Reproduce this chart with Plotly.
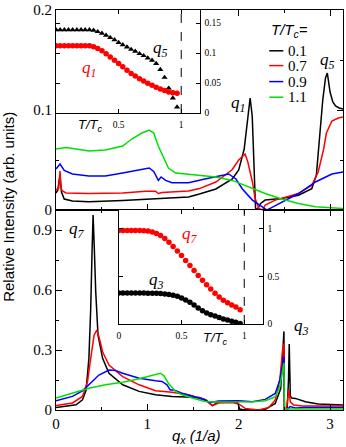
import plotly.graph_objects as go

# ---------------- main top panel data (q_x in 1/a, intensity) ----------------
q_top_t01 = [0.0, 0.02, 0.035, 0.044, 0.06, 0.09, 0.18, 0.36, 0.73, 1.09, 1.45, 1.57, 1.75, 1.93, 2.0,
             2.06, 2.09, 2.125, 2.148, 2.166, 2.184, 2.20, 2.24, 2.29, 2.47, 2.654, 2.80, 2.85, 2.89,
             2.92, 2.95, 2.97, 3.0, 3.03, 3.06, 3.1, 3.1416]
I_top_t01 = [0.017, 0.02, 0.03, 0.034, 0.018, 0.011, 0.0089, 0.0082, 0.0095, 0.011, 0.013, 0.016, 0.021,
             0.031, 0.040, 0.061, 0.087, 0.112, 0.094, 0.044, 0.002, 0.0, 0.0066, 0.0099, 0.0115, 0.0148,
             0.0214, 0.035, 0.077, 0.11, 0.132, 0.137, 0.118, 0.108, 0.104, 0.102, 0.101]

q_top_t07 = [0.0, 0.03, 0.044, 0.055, 0.07, 0.11, 0.36, 0.73, 0.98, 1.09, 1.12, 1.16, 1.45, 1.57, 1.75,
             1.93, 2.0, 2.07, 2.10, 2.15, 2.18, 2.22, 2.26, 2.29, 2.40, 2.654, 2.80, 2.87, 2.93, 2.96,
             3.02, 3.09, 3.1416]
I_top_t07 = [0.02, 0.022, 0.039, 0.022, 0.019, 0.017, 0.0165, 0.017, 0.0188, 0.0188, 0.0165, 0.0175,
             0.019, 0.0214, 0.028, 0.0405, 0.050, 0.056, 0.048, 0.028, 0.0115, 0.0016, 0.0, 0.005,
             0.0099, 0.0165, 0.0247, 0.038, 0.061, 0.077, 0.089, 0.092, 0.093]

q_top_t09 = [0.0, 0.044, 0.09, 0.18, 0.36, 0.54, 0.73, 0.91, 1.02, 1.07, 1.12, 1.15, 1.20, 1.27, 1.45,
             1.63, 1.75, 1.89, 1.97, 2.04, 2.15, 2.26, 2.31, 2.36, 2.51, 2.654, 2.84, 3.02, 3.1416]
I_top_t09 = [0.041, 0.046, 0.0395, 0.036, 0.034, 0.034, 0.037, 0.0405, 0.042, 0.0385, 0.0296, 0.033,
             0.0296, 0.0273, 0.0273, 0.031, 0.033, 0.036, 0.031, 0.021, 0.0099, 0.0033, 0.0, 0.0023,
             0.0099, 0.0165, 0.028, 0.036, 0.038]

q_top_t11 = [0.0, 0.11, 0.22, 0.36, 0.54, 0.73, 0.83, 0.94, 1.02, 1.07, 1.12, 1.18, 1.23, 1.31, 1.45,
             1.57, 1.75, 1.93, 2.11, 2.29, 2.47, 2.654, 2.84, 3.02, 3.1416]
I_top_t11 = [0.061, 0.0626, 0.061, 0.059, 0.060, 0.064, 0.071, 0.077, 0.080, 0.077, 0.064, 0.051, 0.042,
             0.037, 0.0356, 0.0346, 0.033, 0.0296, 0.023, 0.0165, 0.011, 0.0066, 0.0033, 0.002, 0.0016]

# ---------------- main bottom panel data ----------------
q_bot_t01 = [0.0, 0.22, 0.29, 0.33, 0.36, 0.38, 0.395, 0.406, 0.42, 0.435, 0.46, 0.51, 0.58, 0.73, 0.91,
             1.09, 1.27, 1.45, 1.57, 1.64, 1.71, 1.78, 1.93, 1.99, 2.01, 2.04, 2.15, 2.29, 2.40, 2.46,
             2.48, 2.495, 2.50, 2.53, 2.545, 2.553, 2.565, 2.58, 2.62, 2.73, 2.87, 3.1416]
I_bot_t01 = [0.013, 0.026, 0.051, 0.10, 0.258, 0.506, 0.80, 0.975, 0.80, 0.59, 0.374, 0.258, 0.184,
             0.126, 0.093, 0.076, 0.068, 0.066, 0.063, 0.05, 0.022, 0.04, 0.041, 0.036, 0.005, 0.003,
             0.0, 0.003, 0.033, 0.107, 0.26, 0.393, 0.0, 0.0, 0.15, 0.33, 0.07, 0.06, 0.058, 0.041,
             0.03, 0.025]

q_bot_t07 = [0.0, 0.18, 0.29, 0.345, 0.38, 0.417, 0.446, 0.47, 0.51, 0.58, 0.73, 0.91, 1.09, 1.27, 1.45,
             1.57, 1.64, 1.71, 1.78, 1.93, 2.0, 2.07, 2.15, 2.22, 2.33, 2.40, 2.45, 2.48, 2.495, 2.50,
             2.52, 2.55, 2.565, 2.60, 2.7, 3.1416]
I_bot_t07 = [0.023, 0.035, 0.068, 0.142, 0.258, 0.374, 0.399, 0.366, 0.291, 0.225, 0.167, 0.126, 0.096,
             0.089, 0.076, 0.062, 0.05, 0.022, 0.035, 0.037, 0.03, 0.008, 0.002, 0.0, 0.013, 0.05, 0.15,
             0.30, 0.333, 0.0, 0.0, 0.10, 0.041, 0.025, 0.02, 0.02]

q_bot_t09 = [0.0, 0.18, 0.29, 0.36, 0.47, 0.58, 0.65, 0.73, 0.91, 1.09, 1.16, 1.215, 1.25, 1.29, 1.38,
             1.52, 1.63, 1.68, 1.78, 2.0, 2.15, 2.29, 2.40, 2.45, 2.495, 2.50, 2.53, 2.56, 2.62, 2.73,
             3.1416]
I_bot_t09 = [0.046, 0.068, 0.096, 0.126, 0.175, 0.20, 0.198, 0.184, 0.159, 0.146, 0.143, 0.126, 0.10,
             0.10, 0.084, 0.065, 0.05, 0.036, 0.045, 0.046, 0.041, 0.053, 0.083, 0.15, 0.265, 0.0, 0.0,
             0.017, 0.01, 0.012, 0.012]

q_bot_t11 = [0.0, 0.36, 0.54, 0.73, 0.91, 1.02, 1.09, 1.14, 1.18, 1.23, 1.31, 1.38, 1.52, 1.63, 1.75,
             2.0, 2.15, 2.29, 2.40, 2.45, 2.495, 2.50, 2.53, 3.1416]
I_bot_t11 = [0.06, 0.109, 0.126, 0.139, 0.156, 0.17, 0.18, 0.184, 0.172, 0.134, 0.093, 0.076, 0.056,
             0.043, 0.04, 0.041, 0.041, 0.046, 0.066, 0.116, 0.235, 0.0, 0.005, 0.005]

# ---------------- inset data (T/Tc) ----------------
T_ratio = [0.000, 0.033, 0.067, 0.100, 0.133, 0.167, 0.200, 0.233, 0.267, 0.300, 0.333, 0.367, 0.400,
           0.433, 0.467, 0.500, 0.533, 0.567, 0.600, 0.633, 0.667, 0.700, 0.733, 0.767, 0.800, 0.833,
           0.867, 0.900, 0.933, 0.967]
q5_amp = [0.139, 0.139, 0.139, 0.139, 0.139, 0.139, 0.139, 0.139, 0.139, 0.138, 0.1358, 0.1331, 0.1298,
          0.126, 0.1221, 0.1177, 0.1139, 0.110, 0.1062, 0.1029, 0.099, 0.0957, 0.0918, 0.088, 0.0825,
          0.0726, 0.0594, 0.0413, 0.0248, 0.0099]
q1_amp = [0.1122, 0.1122, 0.1122, 0.1122, 0.1122, 0.1122, 0.1122, 0.1122, 0.1122, 0.1105, 0.1078, 0.104,
          0.099, 0.0935, 0.088, 0.0825, 0.077, 0.0715, 0.066, 0.0616, 0.0572, 0.0534, 0.0495, 0.0462,
          0.0429, 0.0402, 0.0374, 0.0352, 0.0336, 0.033]
q7_amp = [0.983, 0.983, 0.983, 0.983, 0.983, 0.983, 0.982, 0.978, 0.968, 0.952, 0.93, 0.9, 0.86, 0.815,
          0.768, 0.72, 0.668, 0.614, 0.563, 0.51, 0.46, 0.413, 0.367, 0.323, 0.283, 0.25, 0.222, 0.2,
          0.178, 0.15]
q3_amp = [0.325, 0.325, 0.325, 0.325, 0.325, 0.325, 0.325, 0.324, 0.323, 0.322, 0.32, 0.316, 0.31, 0.302,
          0.29, 0.273, 0.252, 0.228, 0.2, 0.168, 0.138, 0.115, 0.097, 0.082, 0.066, 0.052, 0.04, 0.029,
          0.017, 0.004]

temps = ["0.1", "0.7", "0.9", "1.1"]
colors = ["#000000", "#ff0000", "#0000ff", "#00e000"]

fig = go.Figure()

top_sets = [(q_top_t01, I_top_t01), (q_top_t07, I_top_t07), (q_top_t09, I_top_t09), (q_top_t11, I_top_t11)]
bot_sets = [(q_bot_t01, I_bot_t01), (q_bot_t07, I_bot_t07), (q_bot_t09, I_bot_t09), (q_bot_t11, I_bot_t11)]

for (qs, vs), t, c in zip(top_sets, temps, colors):
    fig.add_trace(go.Scatter(x=qs, y=vs, mode="lines", line=dict(color=c, width=1.5),
                             name=t, xaxis="x", yaxis="y", showlegend=False))
for (qs, vs), t, c in zip(bot_sets, temps, colors):
    fig.add_trace(go.Scatter(x=qs, y=vs, mode="lines", line=dict(color=c, width=1.5),
                             name=t, xaxis="x2", yaxis="y2", showlegend=False))

# insets
fig.add_trace(go.Scatter(x=T_ratio, y=q5_amp, mode="markers", xaxis="x3", yaxis="y3",
                         marker=dict(symbol="triangle-up", size=5.5, color="black"), showlegend=False))
fig.add_trace(go.Scatter(x=T_ratio, y=q1_amp, mode="markers", xaxis="x3", yaxis="y3",
                         marker=dict(symbol="circle", size=5.5, color="#ff0000"), showlegend=False))
fig.add_trace(go.Scatter(x=T_ratio, y=q7_amp, mode="markers", xaxis="x4", yaxis="y4",
                         marker=dict(symbol="circle", size=5.5, color="#ff0000"), showlegend=False))
fig.add_trace(go.Scatter(x=T_ratio, y=q3_amp, mode="markers", xaxis="x4", yaxis="y4",
                         marker=dict(symbol="circle", size=5.5, color="black"), showlegend=False))

SERIF = "Liberation Serif, Times New Roman, serif"
SANS = "Liberation Sans, Arial, sans-serif"

main_ax = dict(showline=True, linecolor="black", linewidth=1, mirror="ticks", ticks="inside",
               ticklen=6, tickcolor="black", tickwidth=1, showgrid=False, zeroline=False,
               ticklabeloverflow="allow",
               tickfont=dict(family=SERIF, size=15, color="black"))
inset_ax = dict(showline=True, linecolor="black", linewidth=1, mirror="ticks", ticks="inside",
                ticklen=4, tickcolor="black", showgrid=False, zeroline=False,
                ticklabeloverflow="allow",
                tickfont=dict(family=SERIF, size=9.5, color="black"))

fig.update_layout(
    width=346, height=447,
    margin=dict(l=56, r=2, t=6, b=37),
    paper_bgcolor="white", plot_bgcolor="white",
    font=dict(family=SERIF, color="black"),
    xaxis=dict(main_ax, domain=[0, 1], anchor="y", range=[0, 3.1416], tick0=0, dtick=1,
               showticklabels=False,
               minor=dict(dtick=0.5, ticklen=3, ticks="inside", tickcolor="black")),
    yaxis=dict(main_ax, domain=[0.5, 1], anchor="x", range=[0, 0.2], tick0=0, dtick=0.1,
               minor=dict(dtick=0.05, ticklen=3, ticks="inside", tickcolor="black")),
    xaxis2=dict(main_ax, domain=[0, 1], anchor="y2", range=[0, 3.1416], tick0=0, dtick=1,
                minor=dict(dtick=0.5, ticklen=3, ticks="inside", tickcolor="black")),
    yaxis2=dict(main_ax, domain=[0, 0.5], anchor="x2", range=[0, 1.0], tick0=0, dtick=0.3,
                minor=dict(dtick=0.15, ticklen=3, ticks="inside", tickcolor="black")),
    xaxis3=dict(inset_ax, domain=[0, 0.5], anchor="y3", range=[0, 1.146],
                tickvals=[0.5, 1], ticktext=["0.5", "1"], ticklabelstandoff=3),
    yaxis3=dict(inset_ax, domain=[0.7426, 1], anchor="x3", side="right", range=[0, 0.172],
                tickvals=[0, 0.05, 0.1, 0.15], ticktext=["0", "0.05", "0.1", "0.15"],
                ticklabelstandoff=2),
    xaxis4=dict(inset_ax, domain=[0.21875, 0.7198], anchor="y4", range=[0, 1.146],
                tickvals=[0, 0.5, 1], ticktext=["0", "0.5", "1"], ticklabelstandoff=3),
    yaxis4=dict(inset_ax, domain=[0.2153, 0.5], anchor="x4", side="right", range=[0, 1.2],
                tickvals=[0, 0.5, 1], ticktext=["0", "0.5", "1"], ticklabelstandoff=2),
)

# dashed T = Tc lines in the insets
for xr, yr in (("x3", "y3 domain"), ("x4", "y4 domain")):
    fig.add_shape(type="line", xref=xr, yref=yr, x0=1, x1=1, y0=0, y1=1,
                  line=dict(color="black", width=1, dash="dash"))

def qlab(txt, x, y, xref, yref, color="black"):
    fig.add_annotation(text=txt, x=x, y=y, xref=xref, yref=yref, showarrow=False,
                       font=dict(family=SERIF, size=17, color=color), xanchor="center", yanchor="middle")

qlab("<i>q</i><sub><i>1</i></sub>", 1.99, 0.106, "x", "y")
qlab("<i>q</i><sub><i>5</i></sub>", 2.97, 0.149, "x", "y")
qlab("<i>q</i><sub><i>5</i></sub>", 0.835, 0.107, "x3", "y3")
qlab("<i>q</i><sub><i>1</i></sub>", 0.26, 0.074, "x3", "y3", "#ff0000")
qlab("<i>q</i><sub><i>7</i></sub>", 0.23, 0.898, "x2", "y2")
qlab("<i>q</i><sub><i>3</i></sub>", 2.69, 0.417, "x2", "y2")
qlab("<i>q</i><sub><i>7</i></sub>", 0.565, 0.934, "x4", "y4", "#ff0000")
qlab("<i>q</i><sub><i>3</i></sub>", 0.30, 0.45, "x4", "y4")

# inset axis titles
for x, y in ((0.1215, 0.712), (0.556, 0.178)):
    fig.add_annotation(text="<i>T/T<sub>c</sub></i>", x=x, y=y, xref="paper", yref="paper",
                       xanchor="center", yanchor="middle", showarrow=False,
                       font=dict(family=SANS, size=13, color="black"))

# main axis titles
fig.add_annotation(text="Relative Intensity (arb. units)", x=-0.165, y=0.507, xref="paper",
                   yref="paper", xanchor="center", yanchor="middle", textangle=-90, showarrow=False,
                   font=dict(family=SANS, size=15, color="black"))
fig.add_annotation(text="<i>q<sub>x</sub> (1/a)</i>", x=0.49, y=-0.066, xref="paper", yref="paper",
                   xanchor="center", yanchor="middle", showarrow=False,
                   font=dict(family=SANS, size=15, color="black"))

# legend (drawn manually to match short line samples)
fig.add_annotation(text="<i>T/T<sub>c</sub>=</i>", x=0.743, y=0.950, xref="paper", yref="paper",
                   xanchor="left", yanchor="middle", showarrow=False,
                   font=dict(family=SANS, size=15, color="black"))
leg_y = [0.898, 0.861, 0.821, 0.782]
for t, c, ly in zip(temps, colors, leg_y):
    fig.add_shape(type="line", xref="paper", yref="paper", x0=0.743, x1=0.792, y0=ly, y1=ly,
                  line=dict(color=c, width=1.5))
    fig.add_annotation(text=t, x=0.802, y=ly, xref="paper", yref="paper", xanchor="left",
                       yanchor="middle", showarrow=False,
                       font=dict(family=SERIF, size=15, color="black"))

fig.write_html("out.html", config={"displayModeBar": False},
               post_script="document.body.style.margin='0';document.body.style.overflow='hidden';")
